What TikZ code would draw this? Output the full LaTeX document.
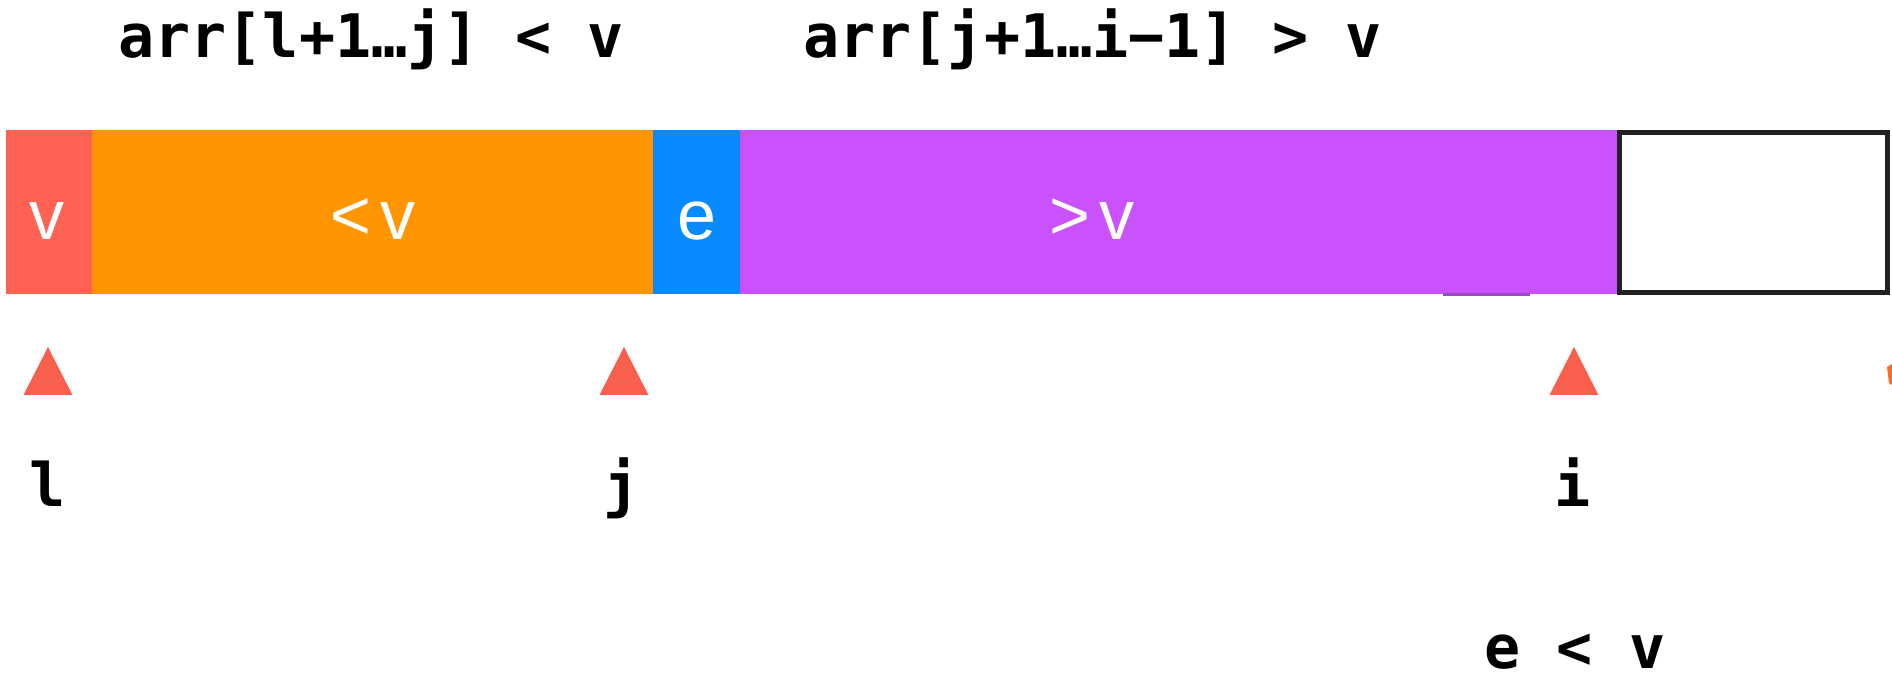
\documentclass[tikz,border=0pt]{standalone}
\usepackage{fontspec}
\newfontfamily\codefont{DejaVu Sans Mono}
\newfontfamily\cellfont{Liberation Sans}
\definecolor{cred}{HTML}{FF6152}
\definecolor{corange}{HTML}{FF9500}
\definecolor{cblue}{HTML}{0A8AFF}
\definecolor{cpurple}{HTML}{C952FD}
\definecolor{cdarkpurple}{HTML}{9B4CC2}
\definecolor{cptr}{HTML}{F8604D}
\definecolor{cedge}{HTML}{FF6B22}
\definecolor{cline}{HTML}{222222}
\tikzset{
  cell/.style={rectangle, inner sep=0pt, outer sep=0pt, minimum height=82pt, anchor=north west},
  celltext/.style={font=\cellfont\fontsize{35}{40}\selectfont, text=white, anchor=base, inner sep=0pt},
  code/.style={font=\codefont\bfseries\fontsize{30}{36}\selectfont, text=black, inner sep=0pt},
  ptr/.style={fill=cptr}
}
\begin{document}
\begin{tikzpicture}[x=0.5pt, y=-0.5pt]
  \fill[white] (0,0) rectangle (1892,679);
  \useasboundingbox (0,0) rectangle (1892,679);

  % headings over the two partitions
  \node[code, anchor=base west] (lefthead) at (118,58) {arr[l+1…j] < v};
  \node[code, anchor=base west] (righthead) at (803,58) {arr[j+1…i−1] > v};

  % the array strip
  \node[cell, fill=cred, minimum width=43pt] (pivot) at (6,130) {};
  \node[cell, fill=corange, minimum width=280.5pt] (less) at (92,130) {};
  \node[cell, fill=cblue, minimum width=43.5pt] (cur) at (653,130) {};
  \node[cell, fill=cpurple, minimum width=438.5pt] (greater) at (740,130) {};
  \node[cell, draw=cline, line width=2.5pt, minimum width=134pt, minimum height=80pt] (rest) at (1619.5,132.5) {};
  \draw[cdarkpurple, line width=1.5pt] (1443,295) -- (1530,295);

  % cell labels
  \node[celltext] (pivotlbl) at (47,240) {v};
  \node[celltext] (lesslbl) at (373,240) {<\hspace{5pt}v};
  \node[celltext] (curlbl) at (697,240) {e};
  \node[celltext] (greaterlbl) at (1092,240) {>\hspace{5pt}v};

  % index pointers
  \coordinate (pl) at (48,347);
  \coordinate (pj) at (624,347);
  \coordinate (pi) at (1574,347);
  \foreach \p in {pl,pj,pi}
    \fill[ptr] (\p) -- ++(24.5,48) -- ++(-49,0) -- cycle;
  \fill[cedge] (1887,367) -- (1892,364) -- (1892,385) -- (1889,383) -- cycle;

  \node[code, anchor=base] (lname) at (48,507) {l};
  \node[code, anchor=base] (jname) at (622,507) {j};
  \node[code, anchor=base] (iname) at (1573,507) {i};
  \node[code, anchor=base] (cond) at (1575,668) {e < v};
\end{tikzpicture}
\end{document}
